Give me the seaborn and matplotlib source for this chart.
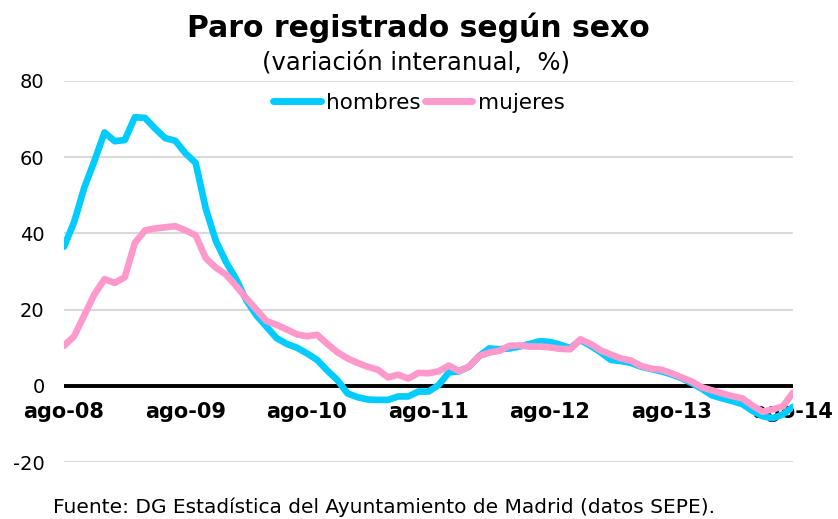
import numpy as np
import pandas as pd
import matplotlib
matplotlib.use("Agg")
import matplotlib.pyplot as plt
import seaborn as sns
from matplotlib.lines import Line2D

# ---- data (monthly, ago-08 .. ago-14) ----
hombres = [36.5, 43, 52, 59, 66.5, 64.2, 64.5, 70.5, 70.3, 67.5,
           65, 64.3, 61, 58.5, 46.5, 38, 32.5, 28, 22.5, 18.5,
           15.5, 12.5, 11, 10, 8.5, 6.8, 4, 1.5, -2, -3,
           -3.6, -3.7, -3.7, -2.8, -2.8, -1.5, -1.5, 0.2, 3.5, 3.8,
           5, 7.8, 9.8, 9.6, 9.8, 10.3, 11, 11.7, 11.5, 10.8,
           9.9, 12, 10.5, 8.8, 6.8, 6.5, 6, 5, 4.4, 3.8,
           3, 2, 0.7, -0.8, -2.5, -3.3, -4, -4.8, -6.6, -8,
           -8.5, -7.5, -5.5]
mujeres = [10.5, 13, 18.5, 24, 28, 27, 28.5, 37.5, 40.8, 41.3,
           41.6, 41.9, 40.8, 39.5, 33.5, 31, 29.2, 26.2, 23, 20,
           17, 16, 14.8, 13.5, 13, 13.4, 11, 8.8, 7.2, 6,
           5, 4.2, 2.2, 2.9, 1.9, 3.4, 3.3, 3.8, 5.3, 3.9,
           5, 7.8, 8.7, 9.2, 10.5, 10.6, 10.3, 10.3, 10.1, 9.7,
           9.6, 12.2, 11, 9.3, 8.2, 7.2, 6.6, 5.2, 4.5, 4.2,
           3.3, 2.2, 1.1, -0.4, -1.2, -2, -2.7, -3.3, -5.2, -6.8,
           -6.2, -5.4, -1.8]
tick_labels = ["ago-08", "ago-09", "ago-10", "ago-11", "ago-12", "ago-13", "ago-14"]
series_names = ["hombres", "mujeres"]
colors = ["#00CCFF", "#FF99CC"]

n = len(hombres)
df = pd.DataFrame({
    "mes": list(range(n)) * 2,
    "valor": hombres + mujeres,
    "serie": [series_names[0]] * n + [series_names[1]] * n,
})

sns.set_style("white")
plt.rcParams["font.family"] = ["DejaVu Sans"]
plt.rcParams["axes.unicode_minus"] = False
plt.rcParams["text.color"] = "black"
plt.rcParams["xtick.color"] = "black"
plt.rcParams["ytick.color"] = "black"

fig = plt.figure(figsize=(8.38, 5.19), dpi=100)
ax = fig.add_axes([64 / 838, 1 - 462 / 519, (793 - 64) / 838, (462 - 81) / 519])

ax.axhline(0, color="black", lw=2.8, zorder=2)
sns.lineplot(data=df, x="mes", y="valor", hue="serie", palette=colors,
             hue_order=series_names, lw=4.8, ax=ax, legend=False, zorder=3,
             solid_capstyle="round", solid_joinstyle="round")

ax.set_xlim(0, n - 1)
ax.set_ylim(-20, 80)
ax.set_yticks([-20, 0, 20, 40, 60, 80])
ax.yaxis.grid(True, color="#D9D9D9", lw=1.5)
ax.set_axisbelow(True)
for s in ax.spines.values():
    s.set_visible(False)
ax.spines["bottom"].set_position(("data", 0))
ax.set_xticks(range(0, n, 12))
ax.set_xticklabels(tick_labels, fontweight="bold", fontsize=15)
ax.tick_params(axis="x", length=0, pad=12, colors="black")
ax.tick_params(axis="y", length=0, labelsize=14, pad=14, colors="black")
ax.set_xlabel("")
ax.set_ylabel("")

handles = [Line2D([0], [0], color=c, lw=5, solid_capstyle="round") for c in colors]
leg = ax.legend(handles, series_names, loc="upper center", bbox_to_anchor=(0.487, 1.0),
                ncol=2, frameon=False, fontsize=15.5, handlelength=2.2,
                handletextpad=0.25, columnspacing=0.2, borderaxespad=0.15)
for t in leg.get_texts():
    t.set_color("black")

fig.text(418 / 838, 1 - 28 / 519, "Paro registrado según sexo", ha="center", va="center",
         fontsize=21.5, fontweight="bold", color="black")
fig.text(416 / 838, 1 - 63 / 519, "(variación interanual,  %)", ha="center", va="center",
         fontsize=17.5, color="black")
fig.text(384 / 838, 1 - 507 / 519, "Fuente: DG Estadística del Ayuntamiento de Madrid (datos SEPE).",
         ha="center", va="center", fontsize=14.5, color="black")

fig.savefig("out.png", dpi=100)
